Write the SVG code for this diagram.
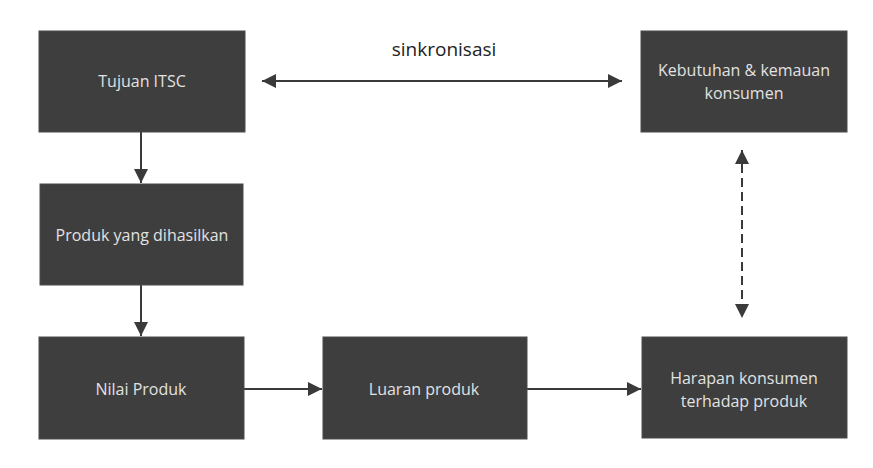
<svg xmlns="http://www.w3.org/2000/svg" width="873" height="468" viewBox="0 0 873 468">
<defs>
<style>
.box{fill:#3e3e3e;stroke:#4a4a4a;stroke-width:1}
.lbl{font-family:"Open Sans","Liberation Sans",sans-serif;font-size:16px;fill:#e2e2e2;text-anchor:middle}
.ln{stroke:#3a3a3a;stroke-width:2;fill:none}
.dash{stroke-dasharray:9,5}
</style>
<marker id="ahb" viewBox="0 0 10 10" refX="10" refY="5" markerWidth="14" markerHeight="14" markerUnits="userSpaceOnUse" orient="auto-start-reverse">
<path d="M0,0 L10,5 L0,10 Z" fill="#3a3a3a"/>
</marker>
</defs>
<rect width="873" height="468" fill="#ffffff"/>
<g id="connectors">
<line class="ln" x1="262" y1="81" x2="622" y2="81" marker-start="url(#ahb)" marker-end="url(#ahb)"/>
<line class="ln" x1="141" y1="132" x2="141" y2="183" marker-end="url(#ahb)"/>
<line class="ln" x1="141" y1="285" x2="141" y2="336" marker-end="url(#ahb)"/>
<line class="ln" x1="244" y1="389" x2="322" y2="389" marker-end="url(#ahb)"/>
<line class="ln" x1="527" y1="389" x2="641" y2="389" marker-end="url(#ahb)"/>
<line class="ln dash" x1="742" y1="150" x2="742" y2="318" marker-start="url(#ahb)" marker-end="url(#ahb)"/>
<text x="444" y="56" font-family="'Open Sans','Liberation Sans',sans-serif" font-size="19" fill="#222" text-anchor="middle">sinkronisasi</text>
</g>
<g id="tujuan">
<rect class="box" x="39" y="31" width="206" height="101"/>
<text class="lbl" x="142" y="87">Tujuan ITSC</text>
</g>
<g id="kebutuhan">
<rect class="box" x="641" y="31" width="206" height="101"/>
<text class="lbl" x="744" y="76">Kebutuhan &amp; kemauan</text>
<text class="lbl" x="744" y="99">konsumen</text>
</g>
<g id="produk">
<rect class="box" x="40" y="184" width="203" height="101"/>
<text class="lbl" x="142" y="241">Produk yang dihasilkan</text>
</g>
<g id="nilai">
<rect class="box" x="39" y="337" width="205" height="102"/>
<text class="lbl" x="141" y="395">Nilai Produk</text>
</g>
<g id="luaran">
<rect class="box" x="323" y="337" width="204" height="102"/>
<text class="lbl" x="424" y="395">Luaran produk</text>
</g>
<g id="harapan">
<rect class="box" x="642" y="337" width="205" height="101"/>
<text class="lbl" x="744" y="384">Harapan konsumen</text>
<text class="lbl" x="744" y="407">terhadap produk</text>
</g>
</svg>
